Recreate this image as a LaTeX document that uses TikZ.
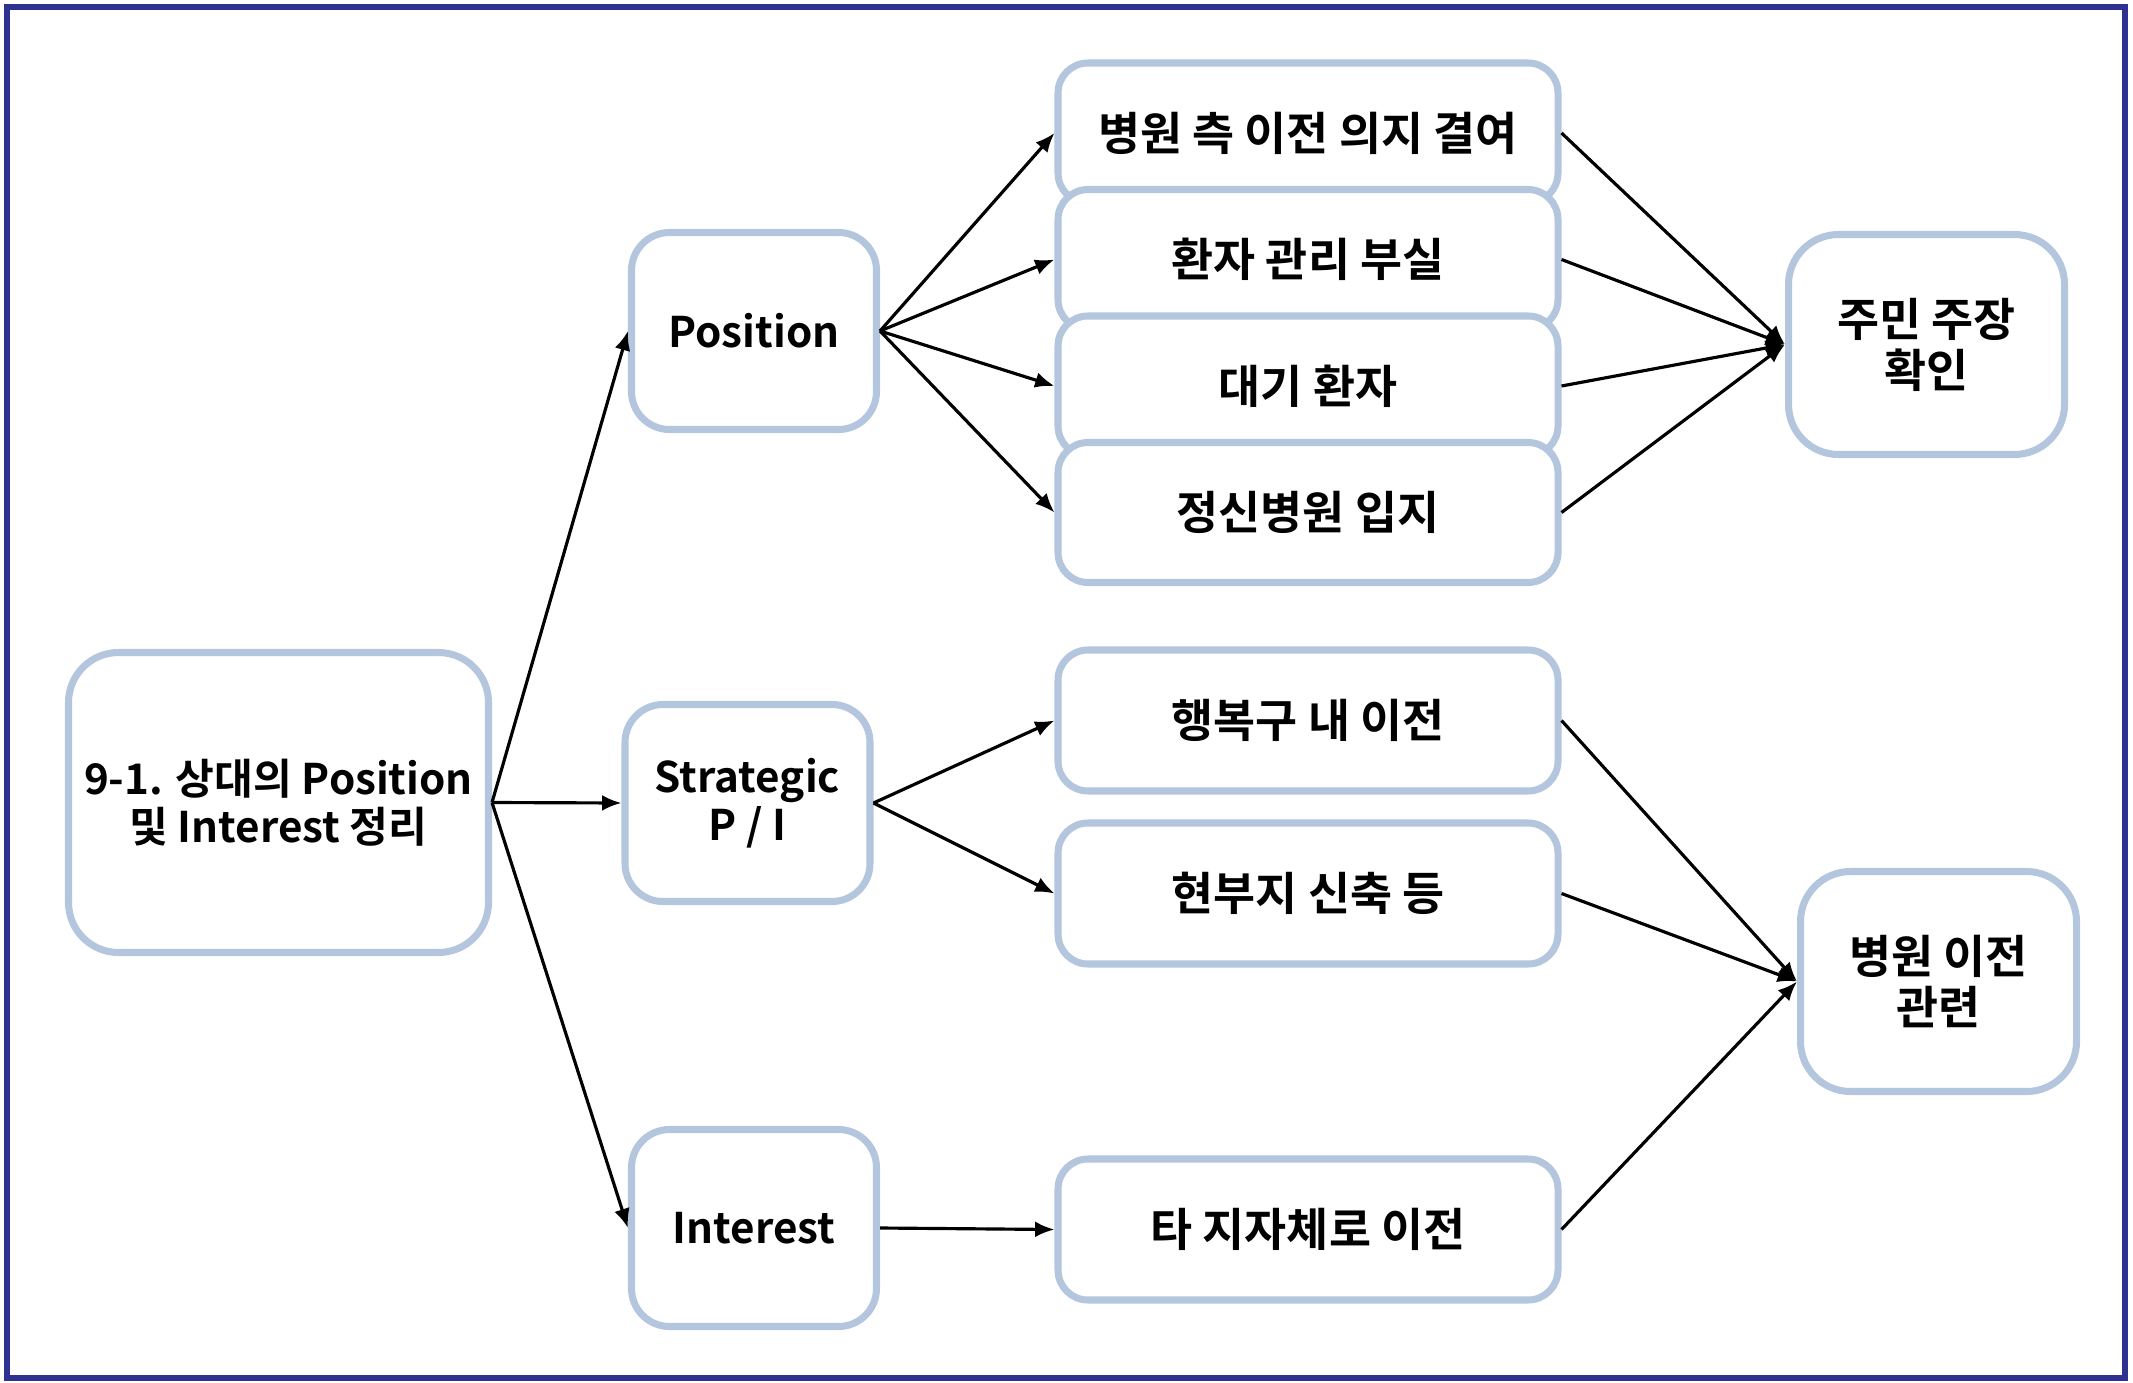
\documentclass[tikz,border=0pt]{standalone}
\usepackage{fontspec}
\setmainfont{Noto Sans CJK KR}[BoldFont={* Bold}]
\usetikzlibrary{shapes,arrows,arrows.meta,positioning}
\definecolor{boxblue}{HTML}{B4C5DE}
\definecolor{frameblue}{HTML}{2E3192}
\tikzstyle{block} = [rectangle, draw=boxblue, line width=2pt, fill=white,
    align=center, font=\fontsize{12}{13.6}\selectfont\bfseries]
\tikzstyle{topic} = [block, minimum width=4.2cm, minimum height=3.0cm, rounded corners=0.5cm]
\tikzstyle{kind} = [block, minimum width=2.45cm, minimum height=1.97cm, rounded corners=0.38cm]
\tikzstyle{item} = [block, minimum width=5.0cm, minimum height=1.40cm, rounded corners=0.3cm,
    font=\fontsize{13}{15}\selectfont\bfseries]
\tikzstyle{claim} = [block, minimum width=2.76cm, minimum height=2.2cm, rounded corners=0.5cm,
    font=\fontsize{13}{14.5}\selectfont\bfseries]
\tikzstyle{line} = [draw, -{Latex[length=5.5pt,width=4.5pt]}, line width=0.9pt]

\begin{document}
\begin{tikzpicture}[node distance = 1.265cm]
			\useasboundingbox (0,0) rectangle (21.33,-13.83);
			\draw [frameblue, line width=0.055cm] (0.07,-0.07) rectangle (21.25,-13.78);
			% Place nodes
			\node [topic] (pi) at (2.785,-8.025) {9-1. 상대의 Position\\및 Interest 정리};
			\node [kind] (pos) at (7.54,-3.31) {Position};
			\node [kind] (sp) at (7.475,-8.03) {Strategic\\P / I};
			\node [kind] (int) at (7.54,-12.28) {Interest};
			\node [item] (will) at (13.08,-1.33) {병원 측 이전 의지 결여};
			\node [item, below of=will] (care) {환자 관리 부실};
			\node [item, below of=care] (wait) {대기 환자};
			\node [item, below of=wait] (site) {정신병원 입지};
			\node [item, minimum height=1.41cm] (hb) at (13.08,-7.205) {행복구 내 이전};
			\node [item, minimum height=1.41cm, below of=hb, node distance=1.73cm] (rb) {현부지 신축 등};
			\node [item, minimum height=1.41cm] (other) at (13.08,-12.295) {타 지자체로 이전};
			\node [claim] (res) at (19.265,-3.445) {주민 주장\\확인};
			\node [claim] (move) at (19.385,-9.815) {병원 이전\\관련};
			% Draw edges
			\path [line] (pi.east) -- (pos.west);
			\path [line] (pi.east) -- (sp.west);
			\path [line] (pi.east) -- (int.west);
			\path [line] (pos.east) -- (will.west);
			\path [line] (pos.east) -- (care.west);
			\path [line] (pos.east) -- (wait.west);
			\path [line] (pos.east) -- (site.west);
			\path [line] (sp.east) -- (hb.west);
			\path [line] (sp.east) -- (rb.west);
			\path [line] (int.east) -- (other.west);
			\path [line] (will.east) -- (res.west);
			\path [line] (care.east) -- (res.west);
			\path [line] (wait.east) -- (res.west);
			\path [line] (site.east) -- (res.west);
			\path [line] (hb.east) -- (move.west);
			\path [line] (rb.east) -- (move.west);
			\path [line] (other.east) -- (move.west);
	\end{tikzpicture}
\end{document}
